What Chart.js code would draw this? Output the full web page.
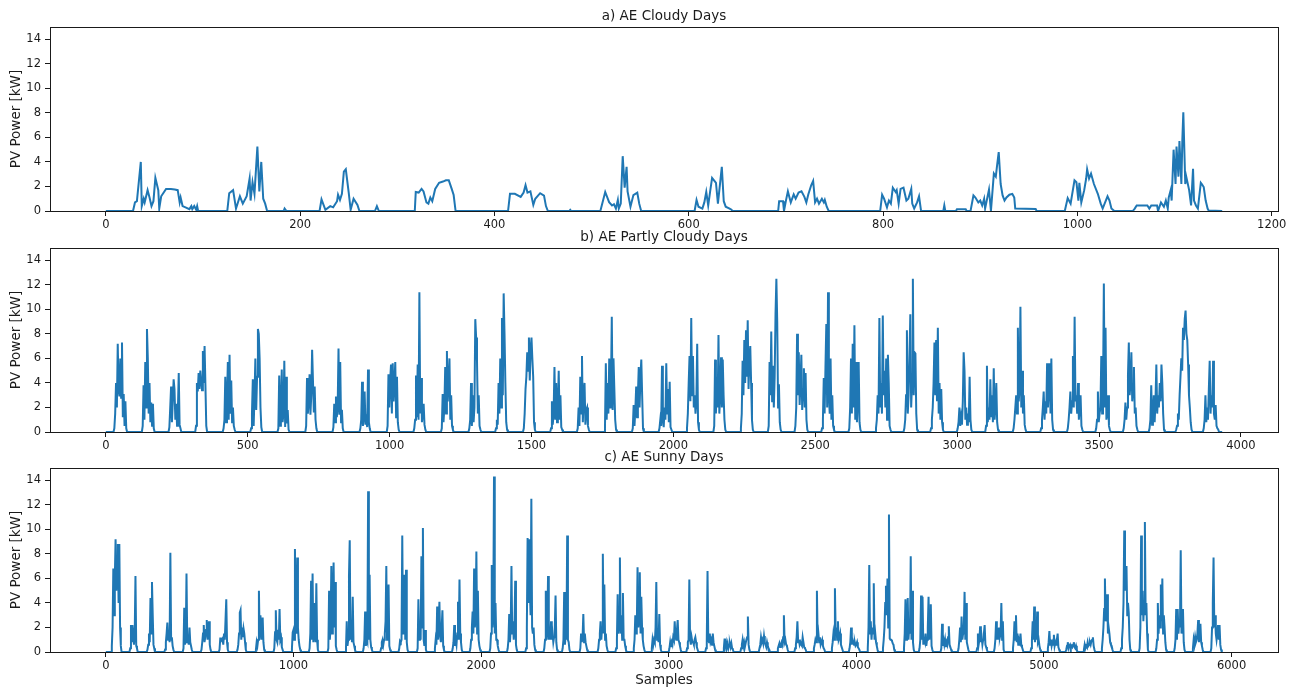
<!DOCTYPE html>
<html>
<head>
<meta charset="utf-8">
<title>AE PV Power</title>
<script src="https://cdn.jsdelivr.net/npm/chart.js@4/dist/chart.umd.min.js"></script>
<style>
  html, body { margin: 0; padding: 0; background: #ffffff; }
  #wrap { position: relative; width: 1296px; height: 691px; }
  canvas { position: absolute; left: 0; display: block; }
</style>
</head>
<body>
<div id="wrap">
  <canvas id="panelA" width="1296" height="230" style="top:0px"></canvas>
  <canvas id="panelB" width="1296" height="220" style="top:230px"></canvas>
  <canvas id="panelC" width="1296" height="241" style="top:450px"></canvas>
</div>
<script>
// ---- Tick labels ----
const powerTicks  = [0, 2, 4, 6, 8, 10, 12, 14];
const cloudyTicks = [0, 200, 400, 600, 800, 1000, 1200];
const partlyTicks = [0, 500, 1000, 1500, 2000, 2500, 3000, 3500, 4000];
const sunnyTicks  = [0, 1000, 2000, 3000, 4000, 5000, 6000];

// ---- a) Cloudy days: sample index and PV power [kW] at each vertex ----
const cloudySamples = [
  0, 28, 30, 32, 36, 37, 39, 40, 43, 45, 47, 49, 51, 54, 55, 57, 62, 67, 71, 74, 76, 77, 79, 82, 86, 88, 89, 91, 93, 94, 95,
  125, 127, 131, 134, 138, 141, 145, 148, 149, 151, 153, 156, 158, 160, 162, 164, 166, 183, 184, 186,
  220, 222, 226, 231, 234, 238, 239, 241, 243, 245, 247, 250, 252, 255, 259, 261, 277, 279, 281,
  318, 319, 322, 325, 327, 330, 332, 334, 336, 339, 343, 347, 350, 353, 356, 358, 360,
  414, 416, 421, 427, 430, 432, 434, 437, 440, 442, 447, 451, 453, 455, 477, 478, 479,
  509, 514, 518, 521, 523, 525, 527, 528, 530, 532, 534, 536, 537, 540, 543, 547, 549, 551,
  606, 608, 610, 614, 616, 618, 620, 622, 624, 626, 628, 630, 634, 636, 638, 642, 644, 645,
  692, 693, 697, 698, 700, 702, 705, 708, 710, 713, 716, 719, 721, 723, 726, 728, 730, 732, 734, 737, 739, 740, 742, 744,
  797, 799, 801, 804, 806, 808, 810, 813, 814, 816, 818, 821, 824, 826, 829, 830, 832, 835, 837, 839, 840, 862, 863, 864, 875, 876, 885, 886,
  890, 893, 895, 898, 900, 902, 904, 905, 909, 911, 914, 916, 917, 919, 921, 923, 925, 927, 930, 933, 935, 936, 957, 958,
  987, 990, 993, 997, 999, 1001, 1002, 1004, 1007, 1009, 1010, 1012, 1014, 1017, 1021, 1024, 1026, 1028, 1031, 1033, 1035, 1038,
  1057, 1059, 1061, 1072, 1074, 1076, 1082, 1083, 1086, 1089, 1091, 1093, 1094, 1096, 1097, 1099, 1101, 1102, 1104, 1105, 1107,
  1108, 1109, 1111, 1112, 1115, 1117, 1119, 1120, 1122, 1124, 1127, 1128, 1130, 1132, 1134, 1135, 1149
];
const cloudyPower = [
  0, 0, 0.7, 0.8, 4.0, 0.4, 1.0, 0.7, 1.7, 1.1, 0.4, 0.8, 2.7, 1.7, 0.2, 1.2, 1.8, 1.8, 1.75, 1.7, 0.7, 1.1, 0.4, 0.3, 0.15, 0.4, 0.15, 0.4, 0.1, 0.4, 0,
  0, 1.45, 1.7, 0.2, 1.2, 0.6, 1.2, 2.65, 0.85, 2.35, 1.4, 5.25, 1.6, 4.0, 1.0, 0.6, 0, 0, 0.2, 0,
  0, 0.95, 0.1, 0.4, 0.3, 0.8, 1.33, 0.9, 1.4, 3.2, 3.4, 1.5, 0.1, 1.0, 0.5, 0, 0, 0.4, 0,
  0, 1.55, 1.5, 1.8, 1.6, 0.7, 0.6, 1.1, 0.8, 1.8, 2.3, 2.4, 2.5, 2.5, 1.8, 1.3, 0,
  0, 1.4, 1.4, 1.15, 1.5, 2.1, 1.5, 1.6, 0.5, 1.0, 1.45, 1.25, 0.4, 0, 0, 0.1, 0,
  0, 1.55, 0.72, 0.45, 0.55, 0.2, 0.9, 0.2, 0.6, 4.47, 1.9, 3.6, 1.6, 0.35, 1.3, 1.5, 0.6, 0,
  0, 0.9, 0.35, 0.2, 0.7, 1.55, 0.45, 1.6, 2.7, 2.5, 2.3, 0.6, 3.6, 0.8, 0.35, 0.2, 0.1, 0,
  0, 0.8, 0.8, 0, 0.85, 1.6, 0.7, 1.35, 1.0, 1.5, 1.6, 1.15, 0.7, 1.35, 2.1, 2.45, 0.7, 1.0, 0.6, 1.0, 0.7, 0.9, 0.35, 0,
  0, 1.33, 1.0, 0.3, 0.85, 0.6, 1.9, 1.55, 1.7, 0.6, 1.8, 1.9, 0.85, 1.0, 1.8, 0.6, 0.2, 0.7, 1.2, 0.05, 0, 0, 0.45, 0, 0, 0.15, 0.15, 0,
  0, 1.27, 1.1, 0.7, 0.85, 0.45, 1.0, 0.2, 1.75, 0, 3.05, 2.8, 3.5, 4.8, 2.2, 1.27, 0.85, 1.1, 1.33, 1.4, 1.1, 0.2, 0.17, 0,
  0, 1.05, 0.6, 2.5, 2.35, 0.85, 2.3, 0.7, 1.7, 2.65, 3.4, 2.65, 3.05, 2.2, 1.4, 0.6, 0.2, 0.6, 1.2, 0.85, 0.2, 0,
  0, 0.2, 0.45, 0.45, 0.2, 0.45, 0.45, 0, 0.7, 0.35, 0.85, 0.2, 1.1, 1.7, 0.85, 5.0, 2.2, 5.25, 2.8, 5.7, 2.2,
  5.8, 8.05, 2.2, 2.8, 1.7, 0.45, 3.45, 0.85, 0.45, 0.2, 2.3, 2.2, 1.95, 0.85, 0.2, 0.05, 0
];

// ---- b) Partly cloudy days: first daylight sample of each day, then power every 3 samples ----
const partlyStep = 3;
const partlyLastSample = 3934;
const partlyDayStart = [
  27, 127, 221, 315, 412, 509, 605, 703, 799, 894, 990, 1084, 1181, 1278, 1372, 1470, 1566, 1660, 1756, 1854, 1948,
  2045, 2141, 2235, 2333, 2427, 2521, 2617, 2711, 2811, 2905, 2999, 3099, 3196, 3293, 3387, 3487, 3584, 3675, 3769, 3866
];
const partlyDayPower = [
  [0.3, 1.5, 4.0, 2.0, 7.2, 3.5, 2.9, 6.0, 2.8, 7.3, 1.2, 3.1, 0.5, 2.5, 0.3],
  [0.5, 3.8, 1.0, 5.7, 2.0, 8.4, 6.0, 1.5, 4.0, 0.8, 2.4, 0.5, 2.3, 0.3],
  [0.4, 2.0, 3.7, 0.8, 2.5, 4.3, 3.5, 1.0, 2.3, 0.5, 1.8, 4.8, 0.6, 0.3],
  [0.5, 4.0, 3.3, 4.8, 3.5, 5.0, 4.2, 3.4, 6.6, 4.0, 7.0, 3.8, 0.5],
  [0.3, 1.0, 4.5, 0.8, 2.5, 5.7, 1.0, 6.3, 1.5, 4.2, 0.8, 2.0, 0.5, 0.2],
  [0.3, 1.5, 4.3, 0.5, 3.0, 6.0, 1.8, 4.5, 8.4, 8.0, 6.0, 2.0, 0.4],
  [0.3, 4.6, 0.5, 2.0, 5.1, 0.8, 1.5, 5.8, 0.4, 4.5, 0.7, 1.8, 0.2],
  [0.5, 4.4, 1.5, 2.5, 4.7, 1.4, 3.0, 6.7, 6.7, 1.6, 3.7, 1.0, 0.3],
  [0.4, 2.3, 0.8, 2.9, 1.2, 2.0, 6.8, 1.4, 5.7, 0.8, 1.8, 0.3],
  [0.3, 1.0, 4.1, 0.5, 1.2, 3.3, 0.6, 1.0, 0.4, 5.1, 0.8, 0.3],
  [0.5, 4.7, 2.0, 4.2, 5.5, 1.5, 5.6, 2.5, 4.0, 5.7, 1.2, 4.5, 0.8, 0.2],
  [0.3, 1.0, 4.6, 1.2, 5.5, 1.0, 11.4, 1.5, 4.4, 0.8, 1.5, 2.3, 0.6, 0.2],
  [0.3, 3.1, 0.8, 2.0, 5.3, 1.5, 6.6, 2.5, 4.0, 6.0, 1.0, 3.0, 0.5, 0.2],
  [0.3, 1.0, 4.0, 0.5, 3.0, 0.8, 2.0, 9.2, 7.7, 5.8, 1.5, 3.0, 0.5, 0.2],
  [0.3, 1.0, 0.6, 4.0, 1.5, 6.0, 2.0, 9.3, 3.0, 11.3, 8.0, 4.0, 0.8, 0.2],
  [0.3, 1.5, 3.5, 4.5, 6.5, 5.0, 7.7, 4.2, 6.8, 7.7, 6.0, 4.5, 0.8, 0.2],
  [0.3, 2.5, 0.6, 1.5, 5.3, 1.0, 4.0, 0.8, 2.0, 5.0, 1.0, 3.0, 0.4, 0.2],
  [0.3, 2.0, 0.5, 4.5, 1.5, 6.2, 0.8, 3.0, 4.0, 0.6, 1.8, 2.0, 0.5, 0.2],
  [0.3, 5.6, 1.0, 4.0, 1.5, 6.0, 2.0, 3.5, 9.4, 1.8, 6.0, 3.5, 1.0, 0.2],
  [0.3, 2.2, 0.5, 1.8, 3.7, 1.2, 3.0, 5.3, 2.0, 4.5, 5.9, 3.0, 0.3],
  [0.3, 1.0, 0.5, 5.4, 1.0, 0.4, 2.0, 1.0, 5.6, 1.5, 3.5, 0.8, 4.1, 0.4, 0.2],
  [0.3, 1.5, 4.0, 6.2, 2.5, 9.3, 3.0, 6.2, 2.0, 3.0, 1.5, 2.5, 7.2, 0.8, 0.2],
  [0.5, 5.9, 1.5, 4.5, 2.0, 7.9, 1.5, 3.0, 6.1, 2.0, 5.9, 3.0, 1.0, 0.2],
  [0.3, 1.5, 5.8, 3.0, 7.5, 4.0, 8.3, 4.5, 9.1, 3.5, 6.0, 7.0, 4.0, 1.0, 0.2],
  [0.5, 5.7, 3.0, 8.2, 2.5, 5.4, 2.0, 4.5, 9.6, 12.5, 9.0, 2.0, 3.9, 0.8, 0.2],
  [0.5, 2.0, 8.0, 3.0, 6.5, 2.2, 4.0, 6.3, 1.8, 3.5, 5.2, 2.0, 4.8, 1.0, 0.2],
  [0.3, 1.0, 4.4, 1.5, 5.3, 8.8, 2.0, 11.4, 3.0, 1.5, 6.0, 1.0, 3.0, 0.5, 0.2],
  [0.3, 2.0, 6.0, 1.5, 7.2, 2.0, 8.7, 1.0, 5.7, 0.8, 2.5, 5.7, 0.8, 0.2],
  [0.3, 1.0, 3.0, 1.5, 9.3, 2.0, 4.0, 1.5, 9.5, 3.0, 5.0, 2.0, 6.0, 1.0, 6.3, 4.0, 0.5, 0.2],
  [0.3, 1.0, 3.0, 8.3, 1.5, 3.0, 6.0, 9.6, 2.0, 4.0, 12.5, 3.0, 6.5, 6.4, 1.5, 0.2],
  [0.3, 1.0, 2.0, 4.0, 7.3, 3.0, 7.5, 2.5, 8.5, 1.5, 4.0, 1.0, 3.5, 0.8, 0.2],
  [0.3, 0.8, 2.0, 0.5, 1.2, 0.6, 2.5, 6.5, 5.0, 1.0, 2.0, 0.6, 1.5, 0.8, 4.5, 1.0, 0.2],
  [0.5, 5.4, 0.8, 2.0, 1.0, 4.3, 1.2, 3.0, 0.8, 5.2, 1.0, 2.0, 4.0, 0.8, 0.2],
  [0.3, 1.0, 2.0, 3.0, 1.5, 8.5, 2.5, 3.5, 10.2, 2.0, 5.0, 1.5, 3.0, 0.6, 0.2],
  [0.3, 1.0, 2.0, 3.3, 1.0, 2.5, 1.5, 5.6, 2.0, 3.5, 5.6, 1.5, 6.0, 1.0, 0.2],
  [0.3, 1.0, 2.0, 3.3, 1.5, 2.5, 6.2, 2.0, 9.4, 2.5, 3.0, 1.5, 4.0, 1.0, 2.0, 3.0, 0.5, 0.2],
  [0.3, 1.0, 3.3, 0.8, 1.5, 2.0, 6.2, 1.5, 3.0, 12.1, 2.0, 8.5, 1.0, 1.5, 3.0, 0.5, 0.2],
  [0.3, 1.0, 2.4, 1.0, 2.0, 4.6, 7.3, 3.0, 4.0, 6.5, 2.5, 3.5, 5.3, 1.5, 2.0, 0.5, 0.2],
  [0.3, 1.0, 3.8, 0.6, 1.5, 3.0, 0.8, 2.5, 5.5, 1.5, 3.0, 2.0, 4.0, 2.5, 5.5, 4.0, 1.5, 0.2],
  [0.2, 0.5, 1.5, 1.0, 3.0, 4.5, 6.0, 5.0, 8.5, 7.5, 9.2, 9.9, 8.0, 7.5, 5.5, 3.0, 2.0, 0.8, 0.2],
  [0.3, 1.0, 3.0, 0.8, 2.0, 1.0, 3.5, 5.8, 1.5, 3.0, 2.0, 5.8, 1.5, 1.0, 2.2, 0.5, 0.3, 0.2]
];

// ---- c) Sunny days: first daylight sample of each day, then power every 4 samples ----
const sunnyStep = 4;
const sunnyLastSample = 5950;
const sunnyDayStart = [
  28, 126, 218, 312, 410, 506, 602, 698, 796, 894, 988, 1082, 1182, 1276, 1370, 1463, 1560, 1658, 1750, 1845, 1939,
  2045, 2138, 2236, 2333, 2431, 2525, 2621, 2716, 2810, 2906, 3000, 3094, 3195, 3290, 3382, 3480, 3578, 3670, 3770,
  3866, 3960, 4057, 4138, 4250, 4333, 4449, 4541, 4640, 4733, 4831, 4928, 5017, 5115, 5209, 5305, 5408, 5506, 5595,
  5693, 5790, 5888
];
const sunnyDayPower = [
  [0.5, 2.0, 6.8, 3.0, 6.0, 9.2, 5.0, 7.0, 8.8, 4.0, 8.8, 2.0, 0.5],
  [0.3, 2.2, 0.8, 2.2, 1.5, 0.6, 1.5, 6.2, 0.5, 0.3],
  [0.2, 0.6, 1.5, 0.8, 4.4, 1.5, 5.7, 3.0, 0.6, 0.3],
  [0.2, 0.8, 1.5, 2.4, 1.0, 1.8, 0.8, 8.1, 1.0, 1.2, 0.5, 0.2],
  [0.3, 3.6, 0.6, 1.0, 6.4, 0.8, 1.0, 0.6, 2.0, 0.8, 0.8, 0.2],
  [0.2, 0.8, 1.5, 2.2, 0.8, 1.2, 1.8, 2.6, 1.0, 2.0, 2.5, 0.6, 0.2],
  [0.2, 1.1, 1.1, 1.0, 1.1, 0.6, 1.5, 1.0, 2.6, 4.3, 0.8, 0.2],
  [0.2, 0.6, 1.5, 3.2, 3.4, 1.0, 2.0, 1.2, 1.9, 1.5, 0.8, 0.2],
  [0.2, 0.8, 0.5, 1.0, 5.0, 1.0, 3.0, 2.0, 1.0, 2.8, 0.8, 0.2],
  [0.3, 1.6, 3.4, 1.0, 0.8, 1.8, 1.0, 3.5, 1.0, 1.2, 0.4, 0.2],
  [0.3, 1.6, 1.8, 1.0, 8.4, 2.0, 1.5, 7.7, 2.0, 1.0, 0.5, 0.2],
  [0.3, 1.5, 5.8, 1.0, 6.4, 0.8, 4.0, 1.5, 0.8, 5.6, 1.0, 0.2],
  [0.3, 5.0, 1.0, 2.0, 7.0, 1.5, 3.0, 7.3, 2.0, 5.7, 0.5, 0.2],
  [0.3, 2.5, 0.5, 1.0, 6.2, 9.1, 1.0, 2.0, 0.8, 4.5, 0.8, 0.5, 0.2],
  [0.3, 1.0, 3.3, 0.5, 1.0, 0.8, 13.1, 1.0, 6.3, 1.0, 0.4, 0.2],
  [0.3, 0.8, 1.0, 0.6, 1.0, 1.5, 2.5, 7.0, 1.0, 2.0, 5.5, 0.5, 0.2],
  [0.3, 0.9, 0.8, 1.0, 9.5, 1.5, 2.0, 6.3, 1.0, 6.7, 0.8, 0.2],
  [0.3, 4.3, 1.0, 2.0, 1.0, 7.8, 2.0, 10.1, 1.0, 0.5, 1.8, 0.2],
  [0.3, 1.0, 0.6, 3.7, 1.0, 2.0, 4.1, 1.2, 0.8, 2.0, 3.4, 0.5, 0.2],
  [0.3, 0.8, 2.2, 0.5, 1.0, 0.6, 1.5, 4.1, 1.0, 5.9, 1.5, 0.8, 0.2],
  [0.3, 1.0, 2.0, 3.3, 1.5, 6.8, 2.0, 3.0, 8.2, 1.5, 5.0, 1.0, 0.5, 0.2],
  [0.3, 1.5, 7.1, 2.0, 3.0, 14.3, 1.5, 4.0, 1.0, 1.0, 0.5, 0.2],
  [0.3, 1.0, 3.1, 0.8, 2.0, 7.0, 1.5, 2.5, 1.0, 2.0, 5.8, 0.6, 0.2],
  [0.3, 2.0, 9.3, 4.0, 9.2, 5.0, 3.0, 12.5, 2.0, 1.5, 2.0, 0.6, 0.2],
  [0.3, 1.0, 5.0, 1.0, 2.0, 6.2, 1.0, 2.0, 1.0, 2.5, 1.0, 1.5, 0.8, 1.2, 2.0, 4.6, 0.8, 0.2],
  [0.3, 1.0, 4.9, 0.6, 1.5, 1.0, 9.5, 1.0, 0.8, 0.2],
  [0.3, 1.5, 0.8, 1.2, 3.1, 0.8, 1.5, 0.8, 0.5, 0.2],
  [0.3, 1.0, 1.5, 2.5, 1.0, 2.0, 8.0, 1.5, 5.5, 1.0, 1.5, 0.5, 0.2],
  [0.3, 1.0, 4.7, 1.5, 2.5, 7.7, 1.5, 3.0, 1.0, 4.8, 1.0, 1.0, 0.5, 0.2],
  [0.3, 1.0, 3.0, 1.5, 2.0, 6.9, 2.0, 3.0, 6.5, 1.5, 4.5, 2.0, 1.0, 0.5, 0.2],
  [0.3, 1.0, 0.6, 1.0, 0.8, 2.0, 5.7, 1.0, 1.5, 0.8, 3.1, 0.6, 0.2],
  [0.3, 0.8, 0.4, 0.8, 0.6, 1.2, 1.0, 2.5, 1.2, 1.0, 1.8, 2.6, 1.0, 0.8, 0.5, 0.2],
  [0.3, 0.8, 1.0, 5.9, 1.0, 0.6, 1.2, 0.8, 0.8, 0.6, 1.0, 1.2, 0.8, 0.4, 0.2],
  [0.3, 1.0, 6.6, 1.0, 0.8, 1.5, 0.8, 1.0, 0.6, 1.5, 0.8, 0.5, 0.2],
  [0.3, 1.1, 0.5, 0.8, 0.4, 0.7, 0.3, 0.6, 0.7, 0.4, 0.7, 0.3, 0.2],
  [0.3, 0.6, 1.0, 0.5, 0.8, 0.4, 0.7, 1.0, 1.2, 2.9, 0.6, 0.2],
  [0.3, 0.6, 1.2, 0.8, 1.0, 0.7, 1.3, 0.8, 0.6, 0.4, 0.8, 0.5, 0.3, 0.2],
  [0.3, 0.5, 0.7, 0.4, 0.6, 0.8, 0.6, 1.2, 3.0, 0.8, 1.0, 0.6, 0.5, 0.2],
  [0.3, 0.6, 1.2, 2.5, 0.8, 1.0, 0.6, 0.8, 0.6, 0.5, 1.2, 0.8, 0.4, 0.3, 0.2],
  [0.3, 0.6, 1.0, 0.8, 5.0, 1.0, 1.5, 0.8, 1.2, 0.6, 0.8, 1.0, 0.5, 0.3, 0.2],
  [0.3, 0.8, 1.5, 1.0, 5.2, 1.5, 2.0, 1.0, 2.5, 1.0, 1.2, 1.5, 0.6, 0.4, 0.2],
  [0.3, 0.8, 2.0, 0.6, 1.0, 0.8, 0.6, 0.8, 0.5, 0.6, 0.8, 0.4, 0.3, 0.2],
  [0.3, 2.0, 7.1, 1.5, 2.5, 1.0, 2.0, 1.5, 5.6, 1.0, 1.5, 0.8, 0.5, 0.2],
  [0.3, 1.0, 2.0, 4.0, 5.4, 3.0, 6.0, 2.0, 11.2, 1.1, 1.0, 1.0, 0.9, 0.7, 0.6, 0.2],
  [0.3, 1.5, 4.3, 1.0, 2.0, 4.4, 1.0, 2.0, 1.5, 7.8, 1.0, 5.0, 0.8, 0.2],
  [0.3, 1.0, 4.6, 1.0, 4.5, 0.6, 1.0, 0.8, 1.5, 0.5, 1.0, 2.0, 4.5, 1.0, 2.0, 3.9, 0.5, 0.2],
  [0.3, 2.3, 0.5, 1.0, 0.6, 1.0, 0.4, 0.8, 0.6, 1.2, 2.1, 0.6, 0.4, 0.2],
  [0.3, 1.0, 2.0, 0.8, 2.9, 1.0, 1.5, 2.0, 4.9, 1.0, 4.0, 0.8, 0.5, 0.2],
  [0.3, 1.5, 0.6, 1.0, 2.1, 0.8, 1.2, 0.6, 1.0, 1.5, 2.2, 0.6, 0.4, 0.2],
  [0.3, 1.0, 2.5, 1.0, 1.5, 1.0, 2.0, 1.2, 1.5, 4.0, 1.0, 2.5, 0.2],
  [0.3, 1.0, 2.5, 1.0, 3.0, 0.8, 1.5, 0.6, 1.0, 0.8, 1.5, 0.6, 0.4, 0.2],
  [0.3, 1.0, 2.5, 1.0, 3.7, 0.8, 1.5, 1.0, 3.3, 0.8, 1.0, 0.5, 0.2],
  [0.3, 0.8, 1.7, 0.6, 1.0, 0.5, 0.8, 0.6, 1.4, 0.5, 0.8, 0.6, 1.0, 1.5, 0.4, 0.2],
  [0.2, 0.5, 0.8, 0.3, 0.5, 0.6, 0.3, 0.5, 0.4, 0.6, 0.8, 0.4, 0.3, 0.5, 0.2],
  [0.2, 0.6, 0.3, 0.5, 0.4, 0.8, 0.5, 0.6, 0.8, 0.6, 0.9, 1.0, 1.2, 0.5, 0.2],
  [0.3, 1.0, 2.0, 3.5, 6.0, 2.5, 3.0, 4.7, 1.5, 2.0, 1.5, 0.8, 0.6, 0.5, 0.2],
  [0.3, 1.0, 2.0, 4.0, 9.9, 5.0, 6.0, 7.0, 3.0, 4.0, 3.2, 1.0, 0.2],
  [0.3, 2.0, 9.5, 3.0, 5.0, 2.5, 4.0, 10.6, 3.0, 4.0, 1.5, 0.2],
  [0.3, 1.0, 4.0, 1.5, 3.0, 2.0, 5.5, 2.5, 6.0, 1.5, 3.0, 2.0, 0.8, 0.2],
  [0.3, 1.0, 3.5, 1.0, 3.5, 1.5, 2.5, 2.0, 8.3, 1.5, 2.0, 3.5, 0.8, 0.2],
  [0.3, 1.0, 0.6, 1.2, 0.8, 1.0, 1.5, 2.6, 0.8, 1.2, 2.3, 0.8, 0.5, 0.2],
  [0.3, 2.0, 4.0, 7.7, 2.0, 3.0, 1.5, 1.0, 1.5, 2.2, 1.0, 2.2, 0.6, 0.2]
];

// ---- styling ----
const FONT = "'DejaVu Sans', 'Liberation Sans', sans-serif";
const INK = '#1a1a1a';
const LINE_COLOR = '#1f77b4';

// Pair explicit vertex lists into {x, y} points
function pairPoints(xs, ys) {
  return xs.map((x, i) => ({ x: x, y: ys[i] }));
}

// Daily profiles: zero overnight, readings every `step` samples during daylight
function dayPoints(starts, days, step, lastSample) {
  const pts = [{ x: 0, y: 0 }];
  starts.forEach((start, d) => {
    const vals = days[d];
    pts.push({ x: start, y: 0 });
    vals.forEach((v, i) => pts.push({ x: start + (i + 1) * step, y: v }));
    pts.push({ x: start + (vals.length + 1) * step, y: 0 });
  });
  pts.push({ x: lastSample, y: 0 });
  return pts;
}

// Axes frame and subplot title
const framePlugin = {
  id: 'frame',
  afterDatasetsDraw(chart, args, opts) {
    const { ctx, chartArea: a } = chart;
    ctx.save();
    ctx.strokeStyle = INK;
    ctx.lineWidth = 1;
    const l = Math.round(a.left) + 0.5, t = Math.round(a.top) + 0.5;
    const r = Math.round(a.right) + 0.5, b = Math.round(a.bottom) + 0.5;
    ctx.strokeRect(l, t, r - l, b - t);
    ctx.fillStyle = INK;
    ctx.font = '13.5px ' + FONT;
    ctx.textAlign = 'center';
    ctx.textBaseline = 'middle';
    ctx.fillText(opts.text, (a.left + a.right) / 2, a.top - 11);
    ctx.restore();
  }
};

function makePanel(id, title, points, xRange, xTicks, plotTop, plotBottom, xTitle) {
  const canvas = document.getElementById(id);
  const height = canvas.height;
  const lastData = xRange[1];
  const margin = lastData * 0.05;
  return new Chart(canvas, {
    type: 'line',
    data: {
      datasets: [{
        data: points,
        borderColor: LINE_COLOR,
        borderWidth: 2,
        pointRadius: 0,
        tension: 0,
        fill: false
      }]
    },
    options: {
      responsive: false,
      animation: false,
      events: [],
      layout: { padding: { top: plotTop, right: 18, left: 0, bottom: 0 } },
      plugins: {
        legend: { display: false },
        tooltip: { enabled: false },
        frame: { text: title }
      },
      scales: {
        x: {
          type: 'linear',
          min: xRange[0] - margin,
          max: lastData + margin,
          afterBuildTicks: s => { s.ticks = xTicks.map(v => ({ value: v })); },
          afterFit: s => { s.height = height - plotBottom; },
          grid: { drawOnChartArea: false, drawTicks: true, tickLength: 5, color: INK },
          border: { display: false },
          ticks: {
            font: { family: FONT, size: 11.5 },
            color: INK,
            padding: 2,
            maxRotation: 0,
            autoSkip: false,
            callback: v => String(v)
          },
          title: {
            display: !!xTitle,
            text: xTitle || '',
            font: { family: FONT, size: 13.5 },
            color: INK,
            padding: { top: 0, bottom: 2 }
          }
        },
        y: {
          type: 'linear',
          min: 0,
          max: 15,
          afterBuildTicks: s => { s.ticks = powerTicks.map(v => ({ value: v })); },
          afterFit: s => { s.width = 50; },
          grid: { drawOnChartArea: false, drawTicks: true, tickLength: 5, color: INK },
          border: { display: false },
          ticks: {
            font: { family: FONT, size: 11.5 },
            color: INK,
            padding: 4,
            callback: v => String(v)
          },
          title: {
            display: true,
            text: 'PV Power [kW]',
            font: { family: FONT, size: 13.5 },
            color: INK,
            padding: { top: 8, bottom: 0 }
          }
        }
      }
    },
    plugins: [framePlugin]
  });
}

makePanel('panelA', 'a) AE Cloudy Days', pairPoints(cloudySamples, cloudyPower),
  [0, 1149], cloudyTicks, 27, 211, null);
makePanel('panelB', 'b) AE Partly Cloudy Days',
  dayPoints(partlyDayStart, partlyDayPower, partlyStep, partlyLastSample),
  [0, partlyLastSample], partlyTicks, 18, 202, null);
makePanel('panelC', 'c) AE Sunny Days',
  dayPoints(sunnyDayStart, sunnyDayPower, sunnyStep, sunnyLastSample),
  [0, sunnyLastSample], sunnyTicks, 18, 202, 'Samples');
</script>
</body>
</html>
